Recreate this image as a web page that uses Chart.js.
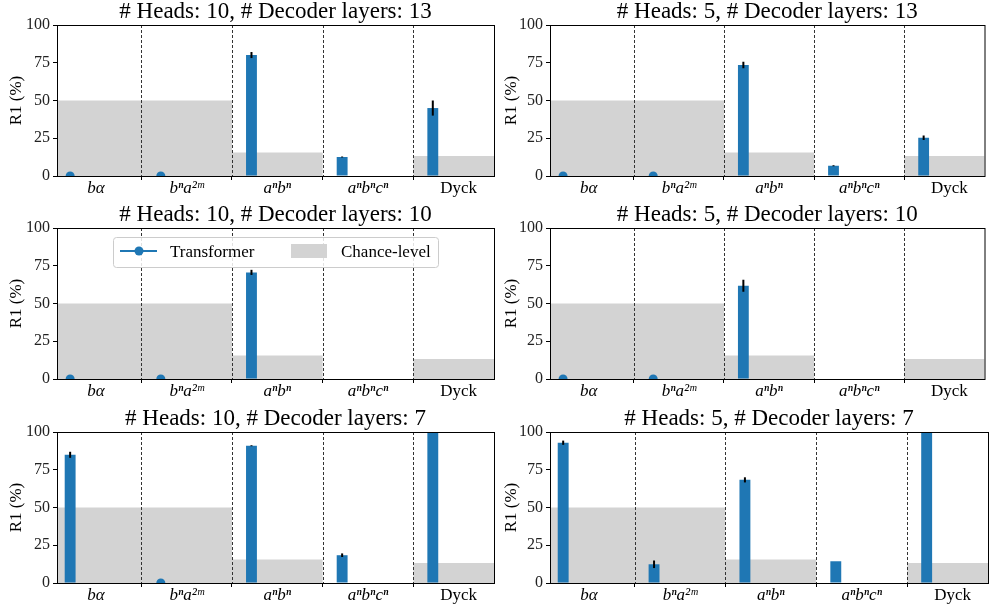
<!DOCTYPE html>
<html lang="en">
<head>
  <meta charset="UTF-8" />
  <title>R1 by number of heads and decoder layers</title>
  <script src="https://cdn.jsdelivr.net/npm/chart.js@4"></script>
  <style>
    body { margin: 0; background: #fff; }
    #wrap { position: relative; width: 989px; height: 608px; overflow: hidden; }
    #wrap canvas { position: absolute; }
  </style>
</head>
<body>
  <div id="wrap"></div>

  <script>
    // --- data ---
    const categories = ['bα', 'bⁿa²ᵐ', 'aⁿbⁿ', 'aⁿbⁿcⁿ', 'Dyck'];
    const chanceLevel = [50, 50, 15.6, 0, 13.2];
    const yTicks = [0, 25, 50, 75, 100];

    const panelTitles = [
      '# Heads: 10, # Decoder layers: 13',
      '# Heads: 5, # Decoder layers: 13',
      '# Heads: 10, # Decoder layers: 10',
      '# Heads: 5, # Decoder layers: 10',
      '# Heads: 10, # Decoder layers: 7',
      '# Heads: 5, # Decoder layers: 7'
    ];

    // Transformer R1 (%) per category, null = nothing plotted
    const r1H10L13 = [0, 0, 80.1, 12.6, 45.0];
    const r1H5L13  = [0, 0, 73.5, 6.8, 25.4];
    const r1H10L10 = [0, 0, 70.6, null, null];
    const r1H5L10  = [0, 0, 61.8, null, null];
    const r1H10L7  = [84.9, 0, 90.9, 18.4, 100];
    const r1H5L7   = [92.9, 12.4, 68.3, 14.4, 100];

    // error bar half-lengths
    const errH10L13 = [0, 0, 2.0, 0.3, 5.0];
    const errH5L13  = [0, 0, 2.2, 0.4, 1.5];
    const errH10L10 = [0, 0, 1.7, 0, 0];
    const errH5L10  = [0, 0, 4.0, 0, 0];
    const errH10L7  = [2.0, 0, 0.3, 1.2, 0];
    const errH5L7   = [1.4, 2.5, 1.7, 0, 0];

    const panelValues = [r1H10L13, r1H5L13, r1H10L10, r1H5L10, r1H10L7, r1H5L7];
    const panelErrors = [errH10L13, errH5L13, errH10L10, errH5L10, errH10L7, errH5L7];

    // --- styling / layout ---
    const BLUE = '#1f77b4';
    const GRAY = '#d3d3d3';
    const SERIF = "'Liberation Serif', 'DejaVu Serif', serif";
    const BAR_SHIFT = -0.285;     // bars sit left of the category centre
    const X_MIN = -0.43, X_MAX = 4.39;

    // canvas placement: left column / right column, three rows
    const cells = [
      { left: 0,   top: 0,   width: 500, yWidth: 57, padRight: 6, titlePad: 6 },
      { left: 500, top: 0,   width: 489, yWidth: 50, padRight: 1, titlePad: 1 },
      { left: 0,   top: 203, width: 500, yWidth: 57, padRight: 6, titlePad: 6, legend: true },
      { left: 500, top: 203, width: 489, yWidth: 50, padRight: 1, titlePad: 1 },
      { left: 0,   top: 407, width: 500, yWidth: 57, padRight: 6, titlePad: 6 },
      { left: 500, top: 407, width: 489, yWidth: 50, padRight: 1, titlePad: 1 }
    ];

    // dividers, error bars, frame, panel title and legend
    const decorPlugin = {
      id: 'decor',
      afterDatasetsDraw(chart, args, opts) {
        const { ctx, chartArea: a, scales: { x, y } } = chart;
        ctx.save();
        ctx.beginPath();
        ctx.rect(a.left, a.top, a.right - a.left, a.bottom - a.top);
        ctx.clip();

        // dotted separators between categories
        ctx.setLineDash([3, 2]);
        ctx.strokeStyle = '#333';
        ctx.lineWidth = 1;
        for (let i = 0; i < categories.length - 1; i++) {
          const px = Math.round(x.getPixelForValue(i + 0.5)) + 0.5;
          ctx.beginPath();
          ctx.moveTo(px, a.top);
          ctx.lineTo(px, a.bottom);
          ctx.stroke();
        }
        ctx.setLineDash([]);

        // error bars
        ctx.strokeStyle = '#000';
        ctx.lineWidth = 2;
        opts.values.forEach((v, i) => {
          const e = opts.errors[i];
          if (v == null || !e) return;
          const px = x.getPixelForValue(i + BAR_SHIFT);
          ctx.beginPath();
          ctx.moveTo(px, y.getPixelForValue(v - e));
          ctx.lineTo(px, y.getPixelForValue(v + e));
          ctx.stroke();
        });
        ctx.restore();
      },
      afterDraw(chart, args, opts) {
        const { ctx, chartArea: a } = chart;
        ctx.save();
        // frame (all four spines)
        ctx.strokeStyle = '#000';
        ctx.lineWidth = 1;
        ctx.strokeRect(a.left + 0.5, a.top + 0.5, a.right - a.left, a.bottom - a.top);

        // panel title, centred over the axes
        ctx.fillStyle = '#000';
        ctx.font = '23px ' + SERIF;
        ctx.textAlign = 'center';
        ctx.textBaseline = 'alphabetic';
        ctx.fillText(opts.title, (a.left + a.right) / 2, 18);

        if (opts.legend) {
          const labels = chart.data.datasets.map(d => d.label);
          const lx = a.left + 56, ly = a.top + 9, lw = 325, lh = 30;
          const cy = ly + 14;
          ctx.fillStyle = 'rgba(255,255,255,0.85)';
          ctx.strokeStyle = '#cccccc';
          ctx.beginPath();
          ctx.roundRect(lx + 0.5, ly + 0.5, lw, lh, 3);
          ctx.fill();
          ctx.stroke();

          ctx.strokeStyle = BLUE;
          ctx.lineWidth = 2;
          ctx.beginPath();
          ctx.moveTo(lx + 7, cy);
          ctx.lineTo(lx + 44, cy);
          ctx.stroke();
          ctx.fillStyle = BLUE;
          ctx.beginPath();
          ctx.arc(lx + 26, cy, 4.5, 0, Math.PI * 2);
          ctx.fill();

          ctx.fillStyle = GRAY;
          ctx.fillRect(lx + 178, cy - 7, 36, 14);

          ctx.fillStyle = '#000';
          ctx.font = '17px ' + SERIF;
          ctx.textAlign = 'left';
          ctx.fillText(labels[0], lx + 57, cy + 6);
          ctx.fillText(labels[2], lx + 228, cy + 6);
        }
        ctx.restore();
      }
    };

    const wrap = document.getElementById('wrap');

    cells.forEach((cell, p) => {
      const canvas = document.createElement('canvas');
      canvas.width = cell.width;
      canvas.height = 200;
      canvas.style.left = cell.left + 'px';
      canvas.style.top = cell.top + 'px';
      wrap.appendChild(canvas);

      const values = panelValues[p];

      new Chart(canvas, {
        type: 'bar',
        data: {
          datasets: [
            {
              type: 'bar',
              label: 'Transformer',
              data: values
                .map((v, i) => ({ x: i + BAR_SHIFT, y: v }))
                .filter(d => d.y != null),
              backgroundColor: BLUE,
              borderWidth: 0,
              barPercentage: 0.12,
              categoryPercentage: 1,
              grouped: false,
              order: 1
            },
            {
              type: 'line',
              label: 'Transformer',
              data: values
                .map((v, i) => ({ x: i + BAR_SHIFT, y: v }))
                .filter(d => d.y === 0),
              showLine: false,
              pointRadius: 4.5,
              pointBackgroundColor: BLUE,
              pointBorderWidth: 0,
              clip: 0,
              order: 0
            },
            {
              type: 'line',
              label: 'Chance-level',
              data: chanceLevel
                .map((c, i) => ({ x: i - 0.5, y: c }))
                .concat([{ x: categories.length - 0.5, y: chanceLevel[chanceLevel.length - 1] }]),
              stepped: true,
              fill: 'origin',
              backgroundColor: GRAY,
              borderColor: 'rgba(0,0,0,0)',
              borderWidth: 0,
              pointRadius: 0,
              clip: 0,
              order: 3
            }
          ]
        },
        options: {
          responsive: false,
          animation: false,
          events: [],
          layout: { padding: { left: 0, right: cell.padRight, top: 25, bottom: 0 } },
          scales: {
            x: {
              type: 'linear',
              min: X_MIN,
              max: X_MAX,
              offset: false,
              afterBuildTicks: s => { s.ticks = categories.map((_, i) => ({ value: i })); },
              afterFit: s => { s.height = 24; },
              grid: { drawOnChartArea: false, tickLength: 4, color: '#000' },
              border: { display: false },
              ticks: {
                autoSkip: false,
                maxRotation: 0,
                padding: -2,
                color: '#000',
                callback: v => categories[v],
                font: ctx => ({
                  family: SERIF,
                  size: 17,
                  style: categories[ctx.index] === 'Dyck' ? 'normal' : 'italic'
                })
              }
            },
            y: {
              type: 'linear',
              min: 0,
              max: 100,
              afterBuildTicks: s => { s.ticks = yTicks.map(v => ({ value: v })); },
              afterFit: s => { s.width = cell.yWidth; },
              grid: { drawOnChartArea: false, tickLength: 4, color: '#000' },
              border: { display: false },
              ticks: { padding: 3, color: '#222', font: { family: SERIF, size: 16 } },
              title: {
                display: true,
                text: 'R1 (%)',
                color: '#000',
                font: { family: SERIF, size: 17 },
                padding: { top: cell.titlePad, bottom: 0 }
              }
            }
          },
          plugins: {
            legend: { display: false },
            tooltip: { enabled: false },
            decor: {
              title: panelTitles[p],
              values: values,
              errors: panelErrors[p],
              legend: !!cell.legend
            }
          }
        },
        plugins: [decorPlugin]
      });
    });
  </script>
</body>
</html>
